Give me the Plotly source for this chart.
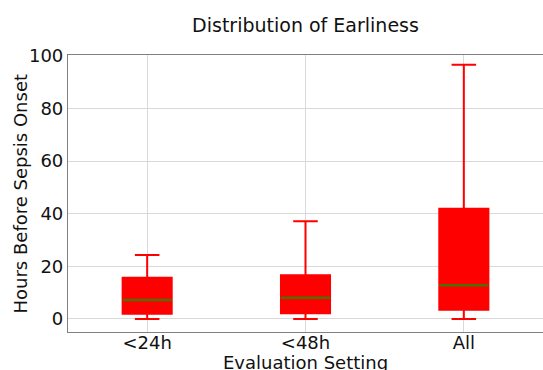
import plotly.graph_objects as go

categories = ["<24h", "<48h", "All"]
lower_whisker = [0.0, 0.0, 0.0]
q1 = [2.0, 2.2, 3.5]
median = [7.2, 8.1, 12.8]
q3 = [15.7, 16.6, 41.9]
upper_whisker = [24.3, 37.1, 96.6]

box_width = 0.31

fig = go.Figure()
fig.add_trace(go.Box(
    x=categories,
    q1=q1, median=median, q3=q3,
    lowerfence=lower_whisker, upperfence=upper_whisker,
    fillcolor="red",
    line=dict(color="red", width=2),
    width=box_width,
    whiskerwidth=0.5,
    boxpoints=False,
    showlegend=False,
    hoverinfo="skip",
))

for i, m in enumerate(median):
    fig.add_shape(type="line", xref="x", yref="y",
                  x0=i - box_width / 2, x1=i + box_width / 2, y0=m, y1=m,
                  line=dict(color="#4f6f00", width=2.5))

fig.add_annotation(text="Evaluation Setting", xref="paper", yref="paper",
                   x=0.5, y=0, xanchor="center", yanchor="middle",
                   yshift=-30, showarrow=False, font=dict(size=18))
fig.add_annotation(text="Hours Before Sepsis Onset", xref="paper", yref="paper",
                   x=0, y=0.5, xanchor="center", yanchor="middle",
                   xshift=-48, textangle=-90, showarrow=False, font=dict(size=18))

font = "DejaVu Sans, Liberation Sans, sans-serif"
fig.update_layout(
    width=543, height=370,
    margin=dict(l=68, r=0, t=55, b=38, autoexpand=False),
    paper_bgcolor="white", plot_bgcolor="white",
    font=dict(family=font, size=18, color="#111111"),
    title=dict(text="Distribution of Earliness", x=0.5, xref="paper",
               y=1 - 25 / 370, yref="container", yanchor="middle",
               font=dict(size=19, color="#111111")),
    xaxis=dict(
        type="category", range=[-0.5, 2.5], automargin=False,
        showgrid=True, gridcolor="#d9d9d9", gridwidth=1,
        showline=True, linecolor="#808080", linewidth=1.2, mirror=True,
        ticks="", tickfont=dict(size=18), ticklabelstandoff=-6,
        zeroline=False,
    ),
    yaxis=dict(
        range=[-4.94, 100.27], automargin=False,
        tickvals=[0, 20, 40, 60, 80, 100],
        showgrid=True, gridcolor="#d9d9d9", gridwidth=1,
        showline=True, linecolor="#808080", linewidth=1.2, mirror=True,
        ticks="", tickfont=dict(size=18),
        zeroline=False,
    ),
)

fig.write_html(
    "out.html",
    config={"displayModeBar": False},
    post_script="document.body.style.margin='0';"
                "document.body.style.overflow='hidden';"
                "Plotly.relayout('{plot_id}', {width: 543, height: 370});",
)
